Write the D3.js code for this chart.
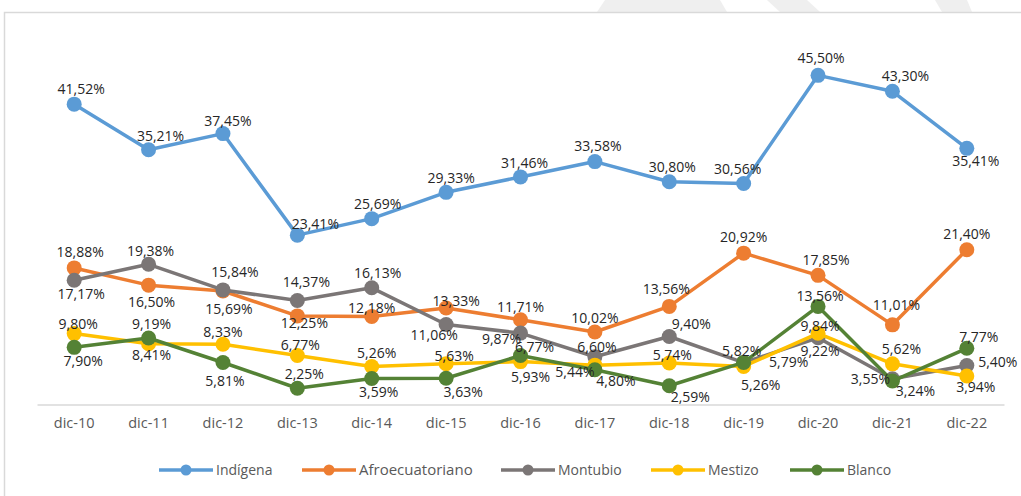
<!DOCTYPE html>
<html>
<head>
<meta charset="utf-8">
<script src="https://cdn.jsdelivr.net/npm/d3@7"></script>
<style>
  body { margin: 0; background: #fff; }
  text { font-family: "Open Sans", sans-serif; }
</style>
</head>
<body>
<script>
// data
const periods = ["dic-10","dic-11","dic-12","dic-13","dic-14","dic-15","dic-16","dic-17","dic-18","dic-19","dic-20","dic-21","dic-22"];
const indigena = [41.52,35.21,37.45,23.41,25.69,29.33,31.46,33.58,30.80,30.56,45.50,43.30,35.41];
const afro     = [18.88,16.50,15.69,12.25,12.18,13.33,11.71,10.02,13.56,20.92,17.85,11.01,21.40];
const montubio = [17.17,19.38,15.84,14.37,16.13,11.06,9.87,6.60,9.40,5.79,9.22,3.55,5.40];
const mestizo  = [9.80,8.41,8.33,6.77,5.26,5.63,5.93,5.44,5.74,5.26,9.84,5.62,3.94];
const blanco   = [7.90,9.19,5.81,2.25,3.59,3.63,6.77,4.80,2.59,5.82,13.56,3.24,7.77];
const seriesNames = ["Indígena","Afroecuatoriano","Montubio","Mestizo","Blanco"];

// where each data label sits relative to its point (layout, not data)
const labelNudge = [
  [[7,-15],[12,-14],[5,-12],[18,-11],[6,-15],[5,-14],[4,-14],[3,-15],[3,-15],[-6,-14],[3,-17],[13,-15],[9,13]],
  [[6,-16],[3,17],[6,18],[7,7],[0,-8],[10,-7],[0,-13],[0,-14],[-3,-17],[0,-16],[8,-15],[4,-20],[0,-16]],
  [[7,14],[2,-13],[12,-18],[9,-18],[6,-15],[-12,11],[-19,6],[2,-10],[22,-12],[45,-1],[2,13],[-22,0],[31,-3]],
  [[4,-10],[3,11],[0,-12],[3,-10],[5,-13],[8,-8],[10,15],[-20,7],[3,-8],[17,19],[2,-7],[9,-15],[9,11]],
  [[9,14],[3,-14],[2,19],[7,-14],[7,14],[17,14],[14,-8],[21,11],[21,11],[-2,-11],[2,-10],[23,10],[12,-11]]
];

const colors = ["#5B9BD5","#ED7D31","#7B7676","#FFC000","#548235"];
const allSeries = [indigena, afro, montubio, mestizo, blanco];

const W = 1021, H = 496;
const svg = d3.select("body").append("svg")
  .attr("width", W).attr("height", H);

// faint watermark pieces along the top edge
const wm = [
  [[605,0],[720,0],[727,12],[597,12]],
  [[767,0],[807,0],[820,12],[780,12]],
  [[935,0],[967,0],[972,12],[942,12]]
];
svg.selectAll("path.wm").data(wm).enter().append("path")
  .attr("class","wm")
  .attr("d", d => d3.line()(d) + "Z")
  .attr("fill", "#efefef");

// chart frame
svg.append("path")
  .attr("d", `M4.5,${H} V12.5 H${W}`)
  .attr("fill","none").attr("stroke","#d9d9d9").attr("stroke-width",1.5);

const x = d3.scaleBand().domain(periods).range([37, 1004]);
const y = d3.scaleLinear().domain([0, 50]).range([404.5, 42.8]);
const cx = d => x(d) + x.bandwidth() / 2;

// x axis
const xaxis = svg.append("g")
  .attr("transform", "translate(0,404.5)")
  .call(d3.axisBottom(x).tickSize(0).tickPadding(13));
xaxis.select(".domain").attr("stroke","#d9d9d9").attr("stroke-width",1.5);
xaxis.selectAll("text")
  .attr("fill","#595959")
  .style("font-size","14.5px")
  .style("font-family","'Open Sans', sans-serif");

const line = d3.line()
  .x((d, i) => cx(periods[i]))
  .y(d => y(d));

allSeries.forEach((vals, s) => {
  const g = svg.append("g");
  g.append("path")
    .datum(vals)
    .attr("d", line)
    .attr("fill","none")
    .attr("stroke", colors[s])
    .attr("stroke-width", 3.5)
    .attr("stroke-linejoin","round");
  g.selectAll("circle").data(vals).enter().append("circle")
    .attr("cx", (d, i) => cx(periods[i]))
    .attr("cy", d => y(d))
    .attr("r", 7.5)
    .attr("fill", colors[s]);
});

// data labels
const fmt = v => v.toFixed(2).replace(".", ",") + "%";
allSeries.forEach((vals, s) => {
  svg.append("g").selectAll("text").data(vals).enter().append("text")
    .attr("x", (d, i) => cx(periods[i]) + labelNudge[s][i][0])
    .attr("y", (d, i) => y(d) + labelNudge[s][i][1])
    .attr("dy","0.35em")
    .attr("text-anchor","middle")
    .attr("fill","#262626")
    .style("font-size","14px")
    .text(fmt);
});

// legend
const legX = [159, 302, 501, 651, 790];
const legend = svg.append("g").attr("transform","translate(0,470)");
seriesNames.forEach((name, s) => {
  const lg = legend.append("g").attr("transform", `translate(${legX[s]},0)`);
  lg.append("line").attr("x1",0).attr("x2",54)
    .attr("stroke", colors[s]).attr("stroke-width",3.5);
  lg.append("circle").attr("cx",27).attr("r",5.5).attr("fill",colors[s]);
  lg.append("text").attr("x",57).attr("dy","0.35em")
    .attr("fill","#595959")
    .style("font-size", s === 1 ? "15px" : "14px")
    .text(name);
});
</script>
</body>
</html>
